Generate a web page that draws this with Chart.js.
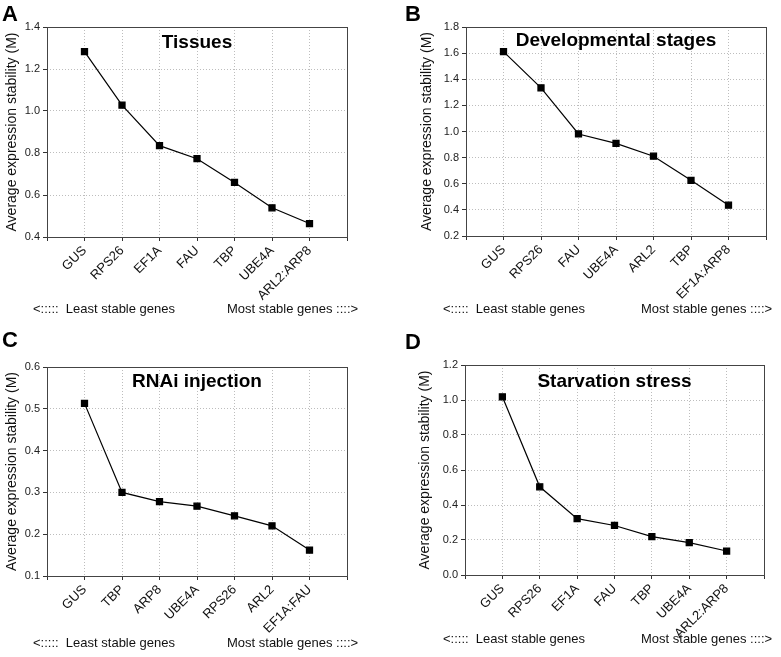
<!DOCTYPE html>
<html>
<head>
<meta charset="utf-8">
<script src="https://cdn.jsdelivr.net/npm/chart.js@4"></script>
<style>
  body { margin: 0; background: #fff; font-family: "Liberation Sans", Arial, sans-serif; }
  #fig { position: relative; width: 781px; height: 657px; overflow: hidden; }
  .panel { position: absolute; }
  .letter { position: absolute; font-weight: bold; font-size: 22px; color: #000; line-height: 1; }
  .note { position: absolute; font-size: 13px; color: #111; white-space: pre; line-height: 1; }
</style>
</head>
<body>
<div id="fig">
  <div class="panel" style="left:0;top:0;width:390px;height:328px"><canvas id="chartA"></canvas></div>
  <div class="panel" style="left:390px;top:0;width:391px;height:328px"><canvas id="chartB"></canvas></div>
  <div class="panel" style="left:0;top:330px;width:390px;height:327px"><canvas id="chartC"></canvas></div>
  <div class="panel" style="left:390px;top:330px;width:391px;height:327px"><canvas id="chartD"></canvas></div>

  <div class="letter" style="left:2px;top:3px">A</div>
  <div class="letter" style="left:405px;top:3px">B</div>
  <div class="letter" style="left:2px;top:329px">C</div>
  <div class="letter" style="left:405px;top:331px">D</div>

  <div class="note" style="left:33px;top:302px">&lt;:::::  Least stable genes</div>
  <div class="note" style="left:227px;top:302px">Most stable genes ::::&gt;</div>
  <div class="note" style="left:443px;top:302px">&lt;:::::  Least stable genes</div>
  <div class="note" style="left:641px;top:302px">Most stable genes ::::&gt;</div>
  <div class="note" style="left:33px;top:636px">&lt;:::::  Least stable genes</div>
  <div class="note" style="left:227px;top:636px">Most stable genes ::::&gt;</div>
  <div class="note" style="left:443px;top:632px">&lt;:::::  Least stable genes</div>
  <div class="note" style="left:641px;top:632px">Most stable genes ::::&gt;</div>
</div>

<script>
// A - Tissues
const genesA = ['GUS', 'RPS26', 'EF1A', 'FAU', 'TBP', 'UBE4A', 'ARL2:ARP8']
const valuesA = [1.283, 1.028, 0.835, 0.773, 0.660, 0.539, 0.464]
const yTicksA = [0.4, 0.6, 0.8, 1.0, 1.2, 1.4]

// B - Developmental stages
const genesB = ['GUS', 'RPS26', 'FAU', 'UBE4A', 'ARL2', 'TBP', 'EF1A:ARP8']
const valuesB = [1.612, 1.334, 0.981, 0.909, 0.811, 0.626, 0.436]
const yTicksB = [0.2, 0.4, 0.6, 0.8, 1.0, 1.2, 1.4, 1.6, 1.8]

// C - RNAi injection
const genesC = ['GUS', 'TBP', 'ARP8', 'UBE4A', 'RPS26', 'ARL2', 'EF1A:FAU']
const valuesC = [0.513, 0.300, 0.278, 0.267, 0.244, 0.220, 0.162]
const yTicksC = [0.1, 0.2, 0.3, 0.4, 0.5, 0.6]

// D - Starvation stress
const genesD = ['GUS', 'RPS26', 'EF1A', 'FAU', 'TBP', 'UBE4A', 'ARL2:ARP8']
const valuesD = [1.018, 0.504, 0.322, 0.283, 0.219, 0.185, 0.137]
const yTicksD = [0.0, 0.2, 0.4, 0.6, 0.8, 1.0, 1.2]

const FONT = '"Liberation Sans", Arial, sans-serif'

// box round the plot area, and the panel name inside it
const frame = {
  id: 'frame',
  beforeDatasetsDraw(chart) {
    const {ctx, chartArea: a} = chart
    ctx.save()
    ctx.strokeStyle = '#444'
    ctx.lineWidth = 1
    ctx.strokeRect(Math.round(a.left) + 0.5, Math.round(a.top) + 0.5,
      Math.round(a.right - a.left), Math.round(a.bottom - a.top))
    ctx.restore()
  },
  afterDraw(chart, args, opts) {
    const {ctx, chartArea: a} = chart
    ctx.save()
    ctx.font = 'bold 19px ' + FONT
    ctx.fillStyle = '#000'
    ctx.textAlign = 'center'
    ctx.textBaseline = 'middle'
    ctx.fillText(opts.text, (a.left + a.right) / 2, a.top + opts.dy)
    ctx.restore()
  },
}

function makeChart(id, title, genes, values, yTicks, lay) {
  const ctx = document.getElementById(id).getContext('2d')
  return new Chart(ctx, {
    type: 'line',
    data: {
      datasets: [{
        data: values.map((v, i) => ({x: i + 1, y: v})),
        borderColor: '#000',
        backgroundColor: '#000',
        borderWidth: 1.2,
        pointStyle: 'rect',
        pointRadius: 4.3,
        tension: 0,
      }],
    },
    options: {
      responsive: true,
      maintainAspectRatio: false,
      animation: false,
      events: [],
      layout: {padding: {left: lay.padLeft, right: lay.padRight, top: lay.padTop, bottom: 0}},
      plugins: {
        legend: {display: false},
        tooltip: {enabled: false},
        frame: {text: title, dy: lay.titleDy},
      },
      scales: {
        x: {
          type: 'linear',
          min: 0,
          max: genes.length + 1,
          afterFit: (s) => { s.height = lay.xHeight },
          ticks: {
            stepSize: 1,
            autoSkip: false,
            maxRotation: 45,
            minRotation: 45,
            padding: 2,
            color: '#111',
            font: {family: FONT, size: 13},
            callback: (v) => genes[Math.round(v) - 1] || '',
          },
          grid: {color: '#bdbdbd', tickColor: '#333', tickLength: 4, tickBorderDash: []},
          border: {display: false, dash: [1, 2]},
        },
        y: {
          min: yTicks[0],
          max: yTicks[yTicks.length - 1],
          afterFit: (s) => { s.width = lay.yWidth },
          afterBuildTicks: (s) => { s.ticks = yTicks.map((v) => ({value: v})) },
          ticks: {
            color: '#222',
            padding: 3,
            font: {family: FONT, size: 11},
            callback: (v) => Number(v).toFixed(1),
          },
          grid: {color: '#bdbdbd', tickColor: '#333', tickLength: 4, tickBorderDash: []},
          border: {display: false, dash: [1, 2]},
          title: {
            display: true,
            text: 'Average expression stability (M)',
            color: '#111',
            padding: 0,
            font: {family: FONT, size: 14},
          },
        },
      },
    },
    plugins: [frame],
  })
}

makeChart('chartA', 'Tissues', genesA, valuesA, yTicksA,
  {padLeft: 4, yWidth: 43, padRight: 43, padTop: 27, xHeight: 91, titleDy: 16})
makeChart('chartB', 'Developmental stages', genesB, valuesB, yTicksB,
  {padLeft: 29, yWidth: 47, padRight: 15, padTop: 27, xHeight: 92, titleDy: 14})
makeChart('chartC', 'RNAi injection', genesC, valuesC, yTicksC,
  {padLeft: 4, yWidth: 43, padRight: 43, padTop: 37, xHeight: 81, titleDy: 15})
makeChart('chartD', 'Starvation stress', genesD, valuesD, yTicksD,
  {padLeft: 27, yWidth: 48, padRight: 17, padTop: 35, xHeight: 82, titleDy: 17})
</script>
</body>
</html>
